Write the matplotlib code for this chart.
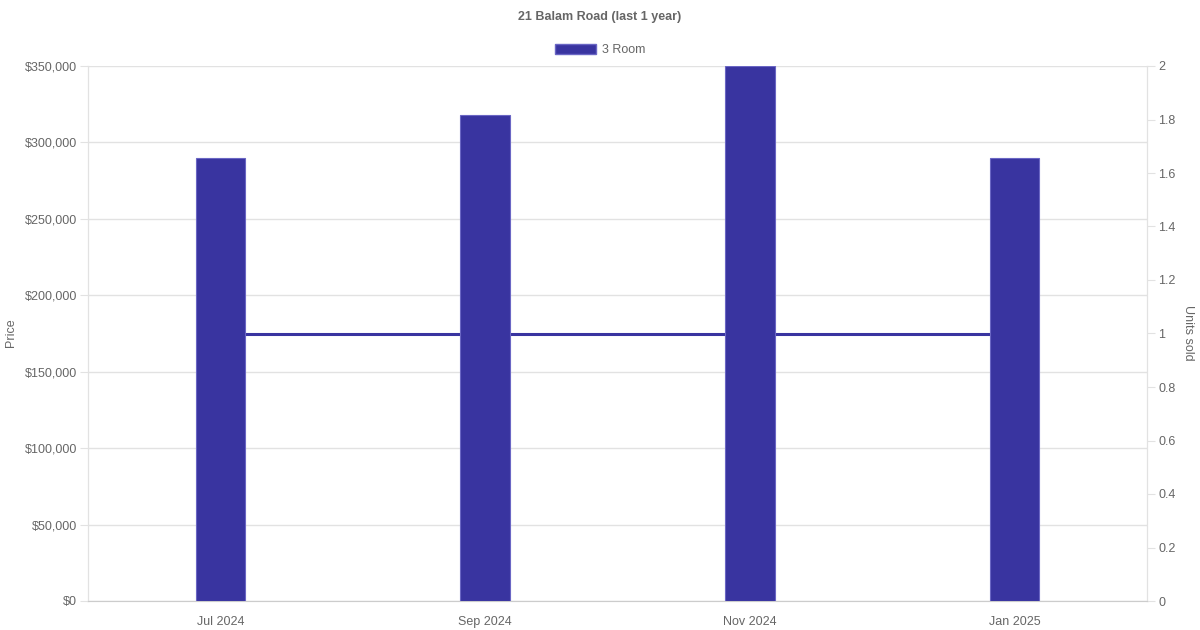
import matplotlib.pyplot as plt
from matplotlib.patches import Patch
from matplotlib.ticker import FuncFormatter, MultipleLocator

plt.rcParams['font.family'] = ['Liberation Sans', 'DejaVu Sans']

months = ["Jul 2024", "Sep 2024", "Nov 2024", "Jan 2025"]
prices = [290000, 318000, 350000, 290000]
units = [1, 1, 1, 1]

bar_color = "#3934a0"
edge_color = "#6a66c4"
grid_color = "#e2e2e2"
text_color = "#666666"

fig = plt.figure(figsize=(12, 6.3), dpi=100)
ax = fig.add_axes([88 / 1200, 29 / 630, 1059 / 1200, 535 / 630])
ax2 = ax.twinx()

x = list(range(len(months)))
ax.bar(x, prices, width=0.187, color=bar_color, edgecolor=edge_color, linewidth=0.8, zorder=3)
ax2.plot(x, units, color=bar_color, linewidth=2.2, solid_capstyle="butt")

# bars on top of the units line
ax.set_zorder(ax2.get_zorder() + 1)
ax.patch.set_visible(False)

ax.set_xlim(-0.5, len(months) - 0.5)
ax.set_ylim(0, 350000)
ax.yaxis.set_major_locator(MultipleLocator(50000))
ax.yaxis.set_major_formatter(FuncFormatter(lambda v, p: "${:,.0f}".format(v)))
ax.grid(axis="y", color=grid_color, linewidth=1)
ax.set_axisbelow(True)
ax.set_xticks(x)
ax.set_xticklabels(months)
ax.tick_params(axis="x", length=0, pad=11, labelsize=9, labelcolor=text_color)
ax.tick_params(axis="y", length=6, color=grid_color, pad=2, labelsize=9, labelcolor=text_color)

ax2.set_ylim(0, 2)
ax2.yaxis.set_major_locator(MultipleLocator(0.2))
ax2.yaxis.set_major_formatter(FuncFormatter(lambda v, p: "{:g}".format(round(v, 1))))
ax2.tick_params(axis="y", length=6, color=grid_color, pad=2, labelsize=9, labelcolor=text_color)

for a in (ax, ax2):
    for s in a.spines.values():
        s.set_color(grid_color)
    a.spines["top"].set_visible(False)
ax.spines["bottom"].set_color("#cccccc")

fig.text(11 / 1200, 1 - 333 / 630, "Price", rotation=90, ha="center", va="center",
         fontsize=9, color=text_color)
fig.text(1188 / 1200, 1 - 333 / 630, "Units sold", rotation=270, ha="center", va="center",
         fontsize=9, color=text_color)

fig.text(0.5, 1 - 17 / 630, "21 Balam Road (last 1 year)", ha="center", va="center",
         fontsize=9, fontweight="bold", color=text_color)
fig.legend(handles=[Patch(facecolor=bar_color, edgecolor=edge_color, label="3 Room")],
           loc="center", bbox_to_anchor=(0.5, 1 - 50 / 630), frameon=False,
           handlelength=3.3, handleheight=0.9, handletextpad=0.5, fontsize=9, labelcolor=text_color)

fig.savefig("out.png", dpi=100)
